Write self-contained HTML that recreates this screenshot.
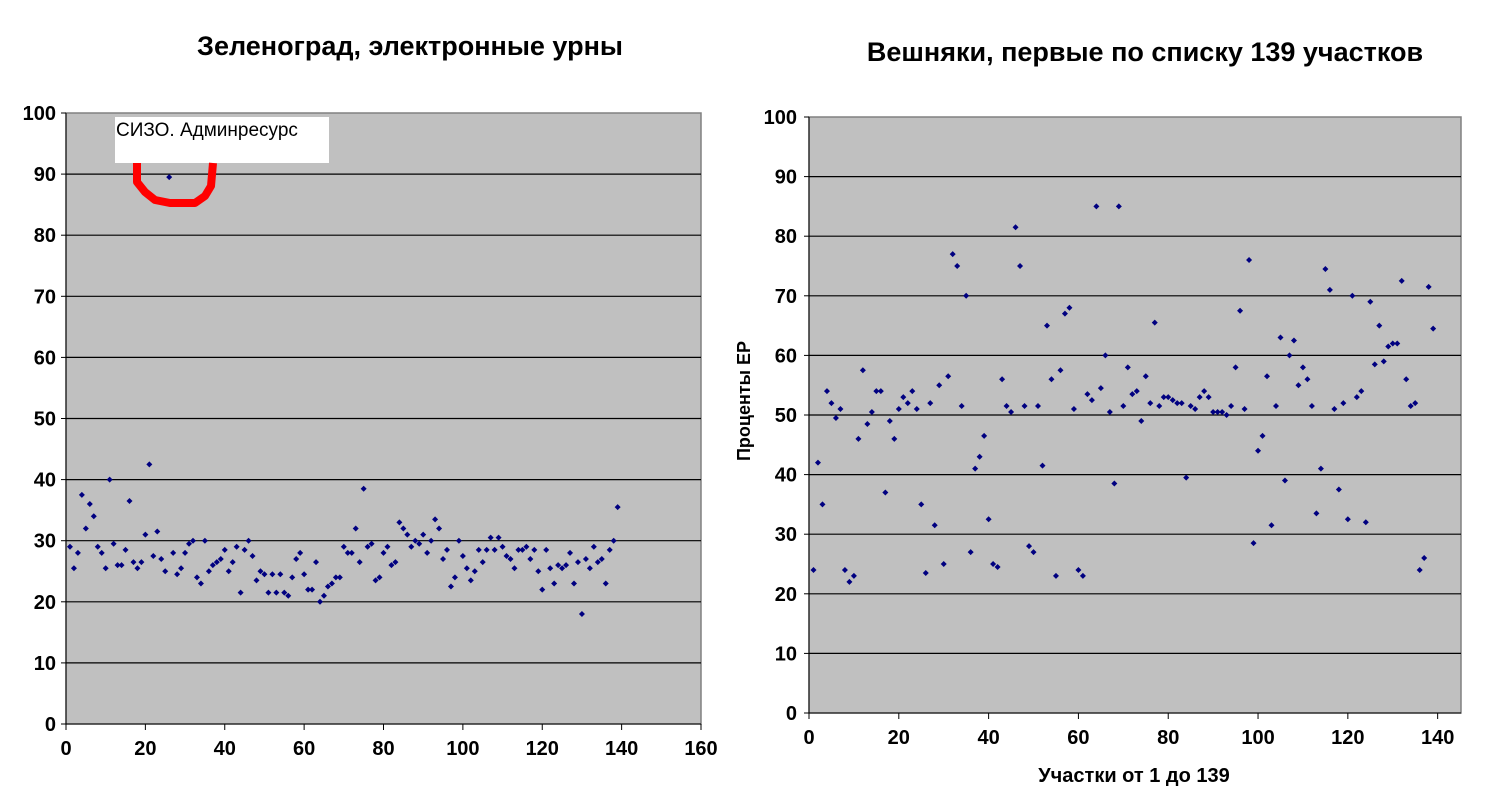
<!DOCTYPE html>
<html><head><meta charset="utf-8"><style>
body{margin:0;background:#fff;}
svg{display:block;font-family:"Liberation Sans",Arial,sans-serif;}
</style></head><body>
<svg id="s" width="1491" height="792" xmlns="http://www.w3.org/2000/svg">
<text x="410" y="55" font-size="27" font-weight="bold" text-anchor="middle">Зеленоград, электронные урны</text>
<text x="1145" y="61" font-size="27" font-weight="bold" text-anchor="middle">Вешняки, первые по списку 139 участков</text>
<text x="1134" y="782" font-size="20" font-weight="bold" text-anchor="middle">Участки от 1 до 139</text>
<text transform="translate(750,401) rotate(-90)" font-size="18" font-weight="bold" text-anchor="middle">Проценты ЕР</text>
<g id="g"></g>
</svg>
<script>
const NS="http://www.w3.org/2000/svg",g=document.getElementById('g');
function el(t,a,txt){const e=document.createElementNS(NS,t);for(const k in a)e.setAttribute(k,a[k]);if(txt!==undefined)e.textContent=txt;g.appendChild(e);return e;}
function chart(L,R,T,B,xmax,xstep,xlabmax,data,ylx){
 el('rect',{x:L,y:T,width:R-L,height:B-T,fill:'#c0c0c0',stroke:'#808080','stroke-width':1.5});
 for(let v=0;v<=100;v+=10){const y=B-(B-T)*v/100;
  if(v>0&&v<100)el('line',{x1:L,x2:R,y1:y,y2:y,stroke:'#000','stroke-width':1.2});
  el('line',{x1:L-5,x2:L,y1:y,y2:y,stroke:'#000'});
  el('text',{x:ylx,y:y+7,'font-size':20,'font-weight':'bold','text-anchor':'end'},v);}
 el('line',{x1:L,x2:L,y1:T,y2:B,stroke:'#000'});
 el('line',{x1:L,x2:R,y1:B,y2:B,stroke:'#000'});
 const sx=(R-L)/xmax;
 for(let v=0;v<=xlabmax;v+=xstep){const x=L+v*sx;
  el('line',{x1:x,x2:x,y1:B,y2:B+6,stroke:'#000'});
  el('text',{x:x,y:B+31,'font-size':20,'font-weight':'bold','text-anchor':'middle'},v);}
 data.forEach((v,i)=>{const x=L+(i+1)*sx,y=B-(B-T)*v/100;
  el('path',{d:`M${x} ${y-3}L${x+3} ${y}L${x} ${y+3}L${x-3} ${y}Z`,fill:'#000080'});});
}
const A=[29,25.5,28,37.5,32,36,34,29,28,25.5,40,29.5,26,26,28.5,36.5,26.5,25.5,26.5,31,42.5,27.5,31.5,27,25,89.5,28,24.5,25.5,28,29.5,30,24,23,30,25,26,26.5,27,28.5,25,26.5,29,21.5,28.5,30,27.5,23.5,25,24.5,21.5,24.5,21.5,24.5,21.5,21,24,27,28,24.5,22,22,26.5,20,21,22.5,23,24,24,29,28,28,32,26.5,38.5,29,29.5,23.5,24,28,29,26,26.5,33,32,31,29,30,29.5,31,28,30,33.5,32,27,28.5,22.5,24,30,27.5,25.5,23.5,25,28.5,26.5,28.5,30.5,28.5,30.5,29,27.5,27,25.5,28.5,28.5,29,27,28.5,25,22,28.5,25.5,23,26,25.5,26,28,23,26.5,18,27,25.5,29,26.5,27,23,28.5,30,35.5];
const Bd=[24,42,35,54,52,49.5,51,24,22,23,46,57.5,48.5,50.5,54,54,37,49,46,51,53,52,54,51,35,23.5,52,31.5,55,25,56.5,77,75,51.5,70,27,41,43,46.5,32.5,25,24.5,56,51.5,50.5,81.5,75,51.5,28,27,51.5,41.5,65,56,23,57.5,67,68,51,24,23,53.5,52.5,85,54.5,60,50.5,38.5,85,51.5,58,53.5,54,49,56.5,52,65.5,51.5,53,53,52.5,52,52,39.5,51.5,51,53,54,53,50.5,50.5,50.5,50,51.5,58,67.5,51,76,28.5,44,46.5,56.5,31.5,51.5,63,39,60,62.5,55,58,56,51.5,33.5,41,74.5,71,51,37.5,52,32.5,70,53,54,32,69,58.5,65,59,61.5,62,62,72.5,56,51.5,52,24,26,71.5,64.5];
chart(66,701,113,724,160,20,160,A,56);
chart(809,1461,117,713,145.2,20,140,Bd,797);
el('rect',{x:115,y:117,width:214,height:46,fill:'#fff'});
el('text',{x:116,y:136,'font-size':19},'СИЗО. Админресурс');
el('path',{d:'M137 163 L137 182 L145 192 L155 200 L170 203 L195 203 L205 196 L211 186 L213 163',fill:'none',stroke:'#f00','stroke-width':8,'stroke-linejoin':'round'});
</script>
</body></html>
